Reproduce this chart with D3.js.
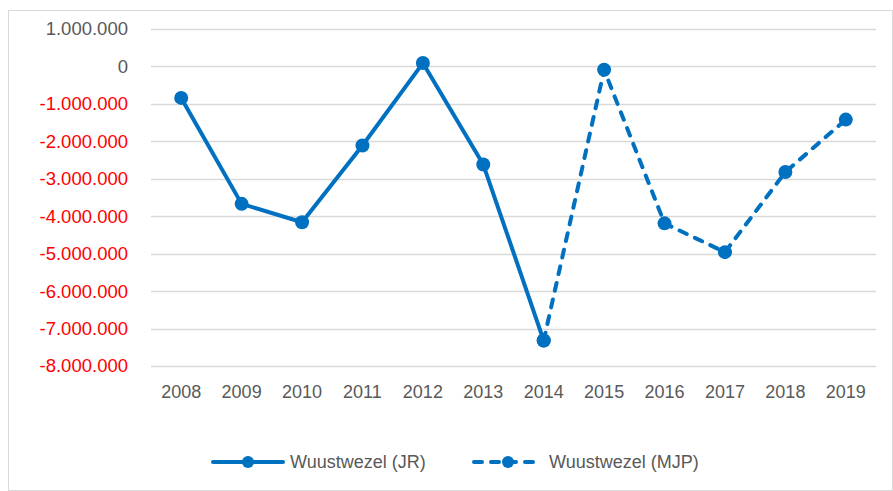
<!DOCTYPE html>
<html><head><meta charset="utf-8">
<script src="https://cdn.jsdelivr.net/npm/d3@7"></script>
<style>body{margin:0;background:#fff}svg{display:block}text{font-family:"Liberation Sans",Arial,sans-serif}</style>
</head><body>
<svg id="c" width="893" height="491"></svg>
<script>
const years = ["2008","2009","2010","2011","2012","2013","2014","2015","2016","2017","2018","2019"];
const jrYears = ["2008","2009","2010","2011","2012","2013","2014"];
const jrValues = [-840000,-3670000,-4160000,-2110000,90000,-2620000,-7320000];
const mjpYears = ["2014","2015","2016","2017","2018","2019"];
const mjpValues = [-7320000,-90000,-4190000,-4960000,-2820000,-1420000];
const yTicks = [1000000,0,-1000000,-2000000,-3000000,-4000000,-5000000,-6000000,-7000000,-8000000];
const seriesNames = ["Wuustwezel (JR)","Wuustwezel (MJP)"];

const svg = d3.select("#c");
const color = "#0070C0";
svg.append("rect").attr("x",8.5).attr("y",10.5).attr("width",884).attr("height",480)
  .attr("fill","#fff").attr("stroke","#d9d9d9");

const x = d3.scaleBand().domain(years).range([151,876]);
const y = d3.scaleLinear().domain([-8000000,1000000]).range([366,29]);
const fmt = v => v===0 ? "0" : d3.format(",")(v).replace(/,/g,".").replace("−","-");

svg.append("g").selectAll("line").data(yTicks).join("line")
  .attr("x1",151).attr("x2",876).attr("y1",d=>Math.round(y(d))+0.5).attr("y2",d=>Math.round(y(d))+0.5)
  .attr("stroke","#d9d9d9").attr("stroke-width",1.5);

svg.append("g").selectAll("text").data(yTicks).join("text")
  .attr("x",128).attr("y",d=>y(d)).attr("dy","0.35em").attr("text-anchor","end")
  .attr("font-size",18.5).attr("fill",d=>d<0?"#FF0000":"#595959").text(fmt);

svg.append("g").selectAll("text").data(years).join("text")
  .attr("x",d=>x(d)+x.bandwidth()/2).attr("y",392).attr("dy","0.35em").attr("text-anchor","middle")
  .attr("font-size",18).attr("fill","#595959").text(d=>d);

const cx = d => x(d)+x.bandwidth()/2;
const line = d3.line().x(d=>cx(d[0])).y(d=>y(d[1]));
const jr = jrYears.map((d,i)=>[d,jrValues[i]]);
const mjp = mjpYears.map((d,i)=>[d,mjpValues[i]]);

svg.append("path").datum(jr).attr("d",line).attr("fill","none").attr("stroke",color)
  .attr("stroke-width",4).attr("stroke-linejoin","round");
svg.append("path").datum(mjp).attr("d",line).attr("fill","none").attr("stroke",color)
  .attr("stroke-width",4).attr("stroke-dasharray","8,9").attr("stroke-linecap","round");

svg.append("g").selectAll("circle").data(jr.concat(mjp)).join("circle")
  .attr("cx",d=>cx(d[0])).attr("cy",d=>y(d[1])).attr("r",7).attr("fill",color);

// legend
const lg = svg.append("g");
lg.append("line").attr("x1",213).attr("x2",283).attr("y1",462).attr("y2",462)
  .attr("stroke",color).attr("stroke-width",4).attr("stroke-linecap","round");
lg.append("circle").attr("cx",248).attr("cy",462).attr("r",6).attr("fill",color);
lg.append("text").attr("x",290).attr("y",462).attr("dy","0.35em").attr("font-size",18)
  .attr("fill","#595959").text(seriesNames[0]);
lg.append("line").attr("x1",474).attr("x2",542).attr("y1",462).attr("y2",462)
  .attr("stroke",color).attr("stroke-width",4).attr("stroke-dasharray","8,9").attr("stroke-linecap","round");
lg.append("circle").attr("cx",508).attr("cy",462).attr("r",6).attr("fill",color);
lg.append("text").attr("x",549).attr("y",462).attr("dy","0.35em").attr("font-size",18)
  .attr("fill","#595959").text(seriesNames[1]);
</script>
</body></html>
